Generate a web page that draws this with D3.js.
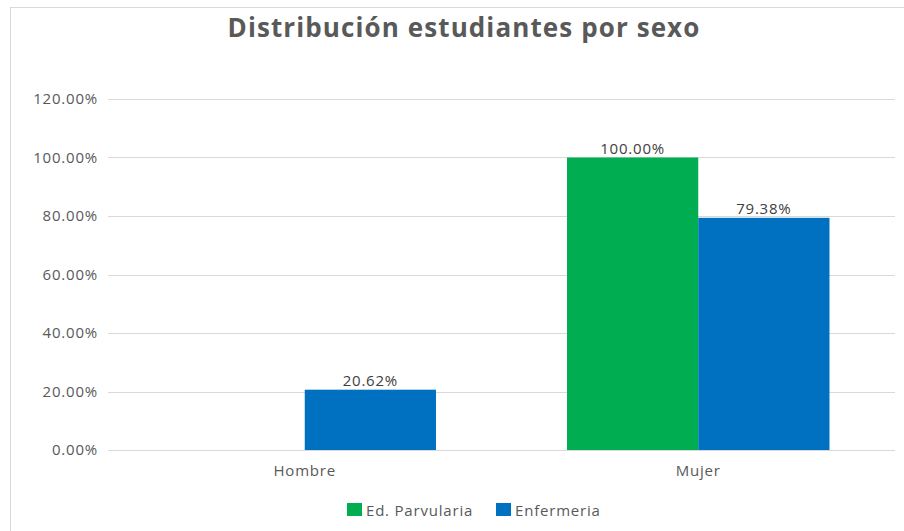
<!DOCTYPE html>
<html>
<head>
<meta charset="utf-8">
<script src="https://cdn.jsdelivr.net/npm/d3@7"></script>
<style>
	body { margin: 0; background: #fff; }
	text { font-family: "Open Sans", "DejaVu Sans", sans-serif; fill: #595959; }
	.axis path, .axis line { display: none; }
</style>
</head>
<body>
<div id="chart"></div>
<script>
// data
var categories = ['Hombre', 'Mujer'];
var seriesNames = ['Ed. Parvularia', 'Enfermeria'];
var parvularia = [null, 1.0];
var enfermeria = [0.2062, 0.7938];
var yTicks = [0, 0.2, 0.4, 0.6, 0.8, 1.0, 1.2];
var colors = ['#00ad50', '#0070c0'];

var width = 904,
	height = 531,
	margin = { top: 99, right: 9, bottom: 81, left: 108 },
	title = 'Distribución estudiantes por sexo';

var drawWidth = width - margin.left - margin.right;
var drawHeight = height - margin.top - margin.bottom;

var seriesValues = [parvularia, enfermeria];

var svg = d3.select('#chart').append('svg')
	.attr('width', width)
	.attr('height', height);

// chart frame
svg.append('rect')
	.attr('x', 10.5).attr('y', 7.5)
	.attr('width', width + 10).attr('height', height + 10)
	.attr('fill', 'none')
	.attr('stroke', '#d9d9d9');

svg.append('text')
	.attr('x', 464)
	.attr('y', 37)
	.attr('text-anchor', 'middle')
	.style('font-size', '26px')
	.style('font-weight', 'bold')
	.style('letter-spacing', '1.1px')
	.text(title);

var g = svg.append('g')
	.attr('transform', 'translate(' + margin.left + ',' + margin.top + ')');

var xScale = d3.scaleBand().domain(categories).range([0, drawWidth]).paddingInner(0.333).paddingOuter(0.1665);
var x1 = d3.scaleBand().domain(seriesNames).range([0, xScale.bandwidth()]);
var yScale = d3.scaleLinear().domain([0, 1.2]).range([drawHeight, 0]);

// gridlines
g.selectAll('.grid').data(yTicks).enter().append('line')
	.attr('class', 'grid')
	.attr('x1', 0).attr('x2', drawWidth)
	.attr('y1', d => Math.round(yScale(d)) + 0.5)
	.attr('y2', d => Math.round(yScale(d)) + 0.5)
	.attr('stroke', '#d9d9d9')
	.attr('stroke-width', 1);

var yAxis = d3.axisLeft(yScale).tickValues(yTicks).tickFormat(d3.format('.2%')).tickSize(0).tickPadding(10);
g.append('g').attr('class', 'axis y').call(yAxis)
	.selectAll('text')
	.style('font-size', '15px')
	.style('letter-spacing', '0.8px')
	.style('fill', '#595959');

var xAxis = d3.axisBottom(xScale).tickSize(0).tickPadding(15);
g.append('g').attr('class', 'axis x')
	.attr('transform', 'translate(0,' + drawHeight + ')')
	.call(xAxis)
	.selectAll('text')
	.style('font-size', '15px')
	.style('fill', '#595959')
	.style('letter-spacing', '0.8px');

// bars
var bars = [];
categories.forEach(function(c, i) {
	seriesNames.forEach(function(s, j) {
		if (seriesValues[j][i] != null) bars.push({ cat: c, series: s, value: seriesValues[j][i], color: colors[j] });
	});
});

// Hombre has no Ed. Parvularia bar, but the slot is still reserved
g.selectAll('rect.bar').data(bars).enter().append('rect')
	.attr('class', 'bar')
	.attr('x', d => xScale(d.cat) + x1(d.series))
	.attr('y', d => yScale(d.value))
	.attr('width', x1.bandwidth())
	.attr('height', d => drawHeight - yScale(d.value))
	.attr('fill', d => d.color);

g.selectAll('text.lbl').data(bars).enter().append('text')
	.attr('class', 'lbl')
	.attr('x', d => xScale(d.cat) + x1(d.series) + x1.bandwidth() / 2)
	.attr('y', d => yScale(d.value) - 4)
	.attr('text-anchor', 'middle')
	.style('font-size', '15px')
	.style('letter-spacing', '0.8px')
	.style('fill', '#404040')
	.text(d => d3.format('.2%')(d.value));

// legend
var legendX = [347, 496];
var legend = svg.selectAll('.legend').data(seriesNames).enter().append('g')
	.attr('class', 'legend')
	.attr('transform', (d, i) => 'translate(' + legendX[i] + ',503)');

legend.append('rect')
	.attr('width', 15).attr('height', 13)
	.attr('fill', (d, i) => colors[i]);

legend.append('text')
	.attr('x', 19)
	.attr('y', 12.5)
	.style('font-size', '15px')
	.style('letter-spacing', '0.8px')
	.text(d => d);
</script>
</body>
</html>
